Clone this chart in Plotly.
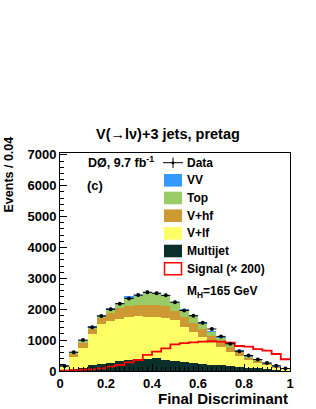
import numpy as np
import plotly.graph_objects as go

# ---------------- data ----------------
bin_edges = [round(0.04 * i, 2) for i in range(26)]
bin_centers = [round(0.02 + 0.04 * i, 2) for i in range(25)]

multijet = [15, 55, 100, 190, 230, 270, 320, 350, 370, 380, 430, 360, 330, 300, 260, 225, 200, 180, 160, 130, 110, 90, 60, 40, 30]
v_lf     = [125, 410, 640, 1000, 1290, 1350, 1380, 1400, 1400, 1360, 1310, 1370, 1320, 1135, 1015, 885, 715, 610, 465, 370, 260, 190, 135, 85, 35]
v_hf     = [30, 105, 190, 160, 190, 250, 330, 370, 380, 400, 400, 360, 300, 300, 280, 240, 210, 170, 160, 100, 70, 50, 35, 25, 10]
top      = [8, 25, 55, 70, 80, 130, 160, 270, 300, 390, 360, 340, 260, 235, 235, 200, 160, 125, 110, 65, 45, 28, 18, 9, 4]
vv       = [2, 5, 5, 10, 10, 10, 10, 10, 10, 10, 10, 10, 10, 10, 10, 10, 5, 5, 5, 5, 5, 2, 2, 1, 1]
data     = [160, 610, 1000, 1420, 1780, 2000, 2180, 2350, 2460, 2550, 2520, 2450, 2230, 1960, 1790, 1560, 1360, 1120, 880, 640, 500, 370, 260, 170, 80]
signal_x200 = [10, 25, 40, 55, 85, 140, 195, 280, 356, 520, 625, 735, 865, 900, 930, 950, 970, 950, 915, 810, 790, 710, 660, 550, 380]

y_ticks = [0, 1000, 2000, 3000, 4000, 5000, 6000, 7000]
x_ticks = [0, 0.2, 0.4, 0.6, 0.8, 1]

# ---------------- colours ----------------
C_VV = "#3399FF"
C_TOP = "#99CC66"
C_VHF = "#CC9933"
C_VLF = "#FFFF66"
C_MJ = "#0B302C"
C_SIG = "#FF0000"

FONT = "Liberation Sans"

# plot area in pixels
L, R, T, B = 60, 290, 153, 371
W, H = 316, 409


def px(x):
    return (x - L) / (R - L)


def py(y):
    return (B - y) / (B - T)


fig = go.Figure()

for name, vals, col in [("Multijet", multijet, C_MJ), ("V+lf", v_lf, C_VLF),
                        ("V+hf", v_hf, C_VHF), ("Top", top, C_TOP), ("VV", vv, C_VV)]:
    fig.add_trace(go.Bar(x=bin_centers, y=vals, width=0.04, name=name,
                         marker=dict(color=col, line=dict(width=0)),
                         showlegend=False, hoverinfo="skip"))

# signal step outline
sx = bin_edges
sy = signal_x200 + [signal_x200[-1]]
fig.add_trace(go.Scatter(x=sx, y=sy, mode="lines", line=dict(color=C_SIG, width=1.8, shape="hv"),
                         showlegend=False, hoverinfo="skip"))

# data points
fig.add_trace(go.Scatter(x=bin_centers, y=data, mode="markers",
                         marker=dict(color="black", size=4),
                         error_x=dict(type="constant", value=0.02, width=0, thickness=1, color="black"),
                         error_y=dict(type="data", array=list(np.sqrt(np.array(data))), width=0, thickness=1, color="black"),
                         showlegend=False, hoverinfo="skip"))

fig.update_layout(
    template="none",
    width=W, height=H,
    margin=dict(l=L, r=W - R, t=T, b=H - B, pad=0, autoexpand=False),
    barmode="stack", bargap=0,
    paper_bgcolor="white", plot_bgcolor="white",
    font=dict(family=FONT, color="black"),
    showlegend=False,
)

fig.update_xaxes(range=[0, 1], tickvals=x_ticks, ticktext=[str(v) for v in x_ticks],
                 automargin=False,
                 ticks="inside", ticklen=7, tickcolor="black", tickwidth=1,
                 showline=True, linecolor="black", linewidth=1, mirror=True,
                 showgrid=False, zeroline=False,
                 tickfont=dict(family=FONT, size=13, color="black", weight="bold"),
                 minor=dict(ticks="inside", ticklen=4, dtick=0.02, tickcolor="black", showgrid=False))
fig.update_yaxes(range=[0, 7060], tickvals=y_ticks, ticktext=[str(v) for v in y_ticks],
                 automargin=False,
                 ticks="inside", ticklen=7, tickcolor="black", tickwidth=1,
                 showline=True, linecolor="black", linewidth=1, mirror=True,
                 showgrid=False, zeroline=False,
                 tickfont=dict(family=FONT, size=13, color="black", weight="bold"),
                 minor=dict(ticks="inside", ticklen=4, dtick=200, tickcolor="black", showgrid=False))

ann = []
shapes = []


def text(x, y, s, size, xanchor="left", angle=0):
    ann.append(dict(x=px(x), y=py(y), xref="paper", yref="paper", text=s, showarrow=False,
                    xanchor=xanchor, yanchor="middle", textangle=angle,
                    font=dict(family=FONT, size=size, color="black", weight="bold")))


text(167.5, 134, "V(\u2192l\u03bd)+3 jets, pretag", 14.5, xanchor="center")
text(290, 398, "Final Discriminant", 15, xanchor="right")
text(8, 174.5, "Events / 0.04", 12.5, xanchor="center", angle=-90)
text(86, 162, "D\u00d8, 9.7 fb<sup>-1</sup>", 12.5)
text(85, 185.5, "(c)", 13)

# legend
bx0, bx1 = 164, 182
lx = 185
entries = [("VV", C_VV, 180.3), ("Top", C_TOP, 198.0), ("V+hf", C_VHF, 215.7),
           ("V+lf", C_VLF, 233.4), ("Multijet", C_MJ, 251.0)]
for name, col, yc in entries:
    shapes.append(dict(type="rect", xref="paper", yref="paper", x0=px(bx0), x1=px(bx1),
                       y0=py(yc + 6.3), y1=py(yc - 6.3), fillcolor=col, line=dict(width=0)))
    text(lx, yc, name, 12)
# signal box
shapes.append(dict(type="rect", xref="paper", yref="paper", x0=px(bx0 + 0.5), x1=px(bx1 - 0.5),
                   y0=py(268.7 + 6), y1=py(268.7 - 6), fillcolor="white",
                   line=dict(color=C_SIG, width=1.5)))
text(lx, 268.7, "Signal (\u00d7 200)", 12)
text(lx, 291.7, "M<sub>H</sub>=165 GeV", 12)
# data legend symbol
shapes.append(dict(type="line", xref="paper", yref="paper", x0=px(163), x1=px(183),
                   y0=py(162.7), y1=py(162.7), line=dict(color="black", width=1)))
shapes.append(dict(type="line", xref="paper", yref="paper", x0=px(173), x1=px(173),
                   y0=py(157.5), y1=py(168), line=dict(color="black", width=1)))
shapes.append(dict(type="circle", xref="paper", yref="paper", x0=px(171.5), x1=px(174.5),
                   y0=py(164.2), y1=py(161.2), fillcolor="black", line=dict(width=0)))
text(lx, 162.7, "Data", 12)

fig.update_layout(annotations=ann, shapes=shapes)

fig.write_html("out.html", config={"displayModeBar": False},
               post_script="document.body.style.margin='0px';document.body.style.overflow='hidden';")
